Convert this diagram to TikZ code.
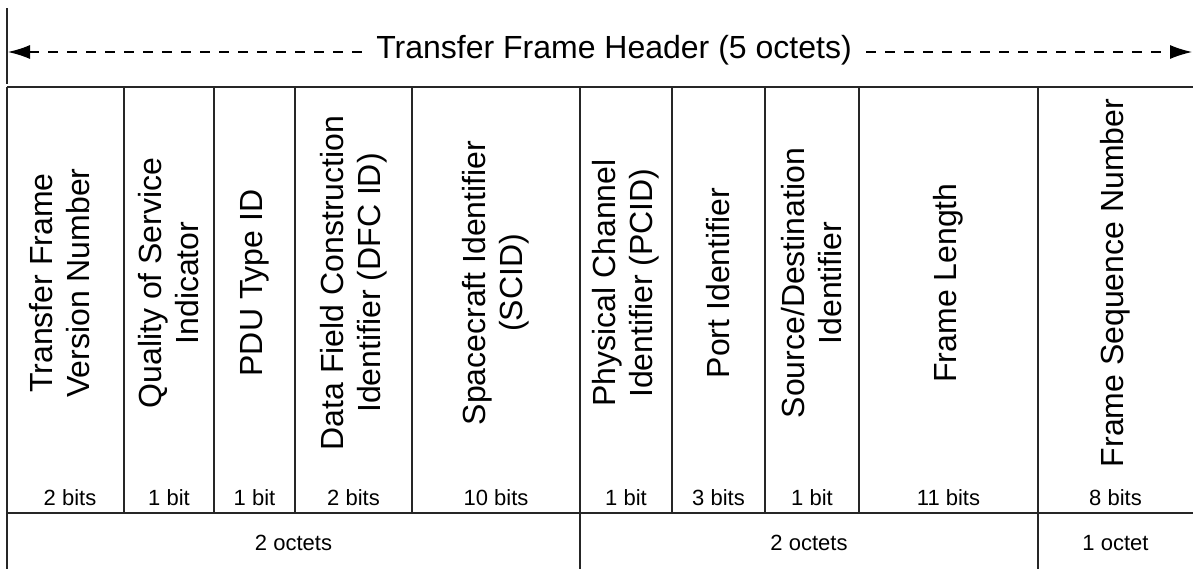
\documentclass[tikz,border=0pt]{standalone}
\usepackage{fontspec}
\setmainfont{Liberation Sans}
\usetikzlibrary{arrows.meta}

\tikzset{
  field/.style={rotate=90, align=center, inner sep=0pt, font=\fontsize{16}{18.5}\selectfont},
  bitcount/.style={inner sep=0pt, font=\fontsize{11}{13}\selectfont},
  rule/.style={line width=0.6pt, black!85},
  hdrarrow/.style={line width=0.6pt, dash pattern=on 5pt off 4.5pt, -{Latex[length=11pt,width=7pt]}}
}

\begin{document}
\begin{tikzpicture}[x=0.5pt, y=-0.5pt]
    \useasboundingbox (0,0) rectangle (1193,569);

    % Header span with the dashed double arrow
    \node[font=\fontsize{16}{18}\selectfont, inner sep=7pt] (hdr) at (614,50) {Transfer Frame Header (5 octets)};
    \coordinate (hdrL) at (8,52);
    \coordinate (hdrR) at (1192,52);
    \draw[hdrarrow] (hdr.west |- hdrL) -- (hdrL);
    \draw[hdrarrow] (hdr.east |- hdrR) -- (hdrR);
    \draw[rule] (7,8) -- (7,84);

    % Table outline and rows
    \draw[rule] (7,87) -- (1193,87);
    \draw[rule] (7,513) -- (1193,513);
    \draw[rule] (7,87) -- (7,569);
    \draw[rule] (580,87) -- (580,569);
    \draw[rule] (1038,87) -- (1038,569);

    % Field dividers
    \draw[rule] (124,87) -- (124,513);
    \draw[rule] (214,87) -- (214,513);
    \draw[rule] (295,87) -- (295,513);
    \draw[rule] (412,87) -- (412,513);
    \draw[rule] (672,87) -- (672,513);
    \draw[rule] (765,87) -- (765,513);
    \draw[rule] (859,87) -- (859,513);

    % Field names
    \node[field] (tfvn) at (60,283) {Transfer Frame\\Version Number};
    \node[field] (qos) at (169,283) {Quality of Service\\Indicator};
    \node[field] (pdu) at (254.5,283) {PDU Type ID};
    \node[field] (dfc) at (353.5,283) {Data Field Construction\\Identifier (DFC ID)};
    \node[field] (scid) at (496,283) {Spacecraft Identifier\\(SCID)};
    \node[field] (pcid) at (626,283) {Physical Channel\\Identifier (PCID)};
    \node[field] (port) at (718.5,283) {Port Identifier};
    \node[field] (srcdst) at (812,283) {Source/Destination\\Identifier};
    \node[field] (flen) at (948.5,283) {Frame Length};
    \node[field] (fsn) at (1115.5,283) {Frame Sequence Number};

    % Field sizes
    \node[bitcount] (tfvnBits) at (70,498) {2 bits};
    \node[bitcount] (qosBits) at (169,498) {1 bit};
    \node[bitcount] (pduBits) at (254.5,498) {1 bit};
    \node[bitcount] (dfcBits) at (353.5,498) {2 bits};
    \node[bitcount] (scidBits) at (496,498) {10 bits};
    \node[bitcount] (pcidBits) at (626,498) {1 bit};
    \node[bitcount] (portBits) at (718.5,498) {3 bits};
    \node[bitcount] (srcdstBits) at (812,498) {1 bit};
    \node[bitcount] (flenBits) at (948.5,498) {11 bits};
    \node[bitcount] (fsnBits) at (1115.5,498) {8 bits};

    % Octet groups
    \node[bitcount] (octA) at (293.5,543) {2 octets};
    \node[bitcount] (octB) at (809,543) {2 octets};
    \node[bitcount] (octC) at (1115.5,543) {1 octet};
\end{tikzpicture}
\end{document}
